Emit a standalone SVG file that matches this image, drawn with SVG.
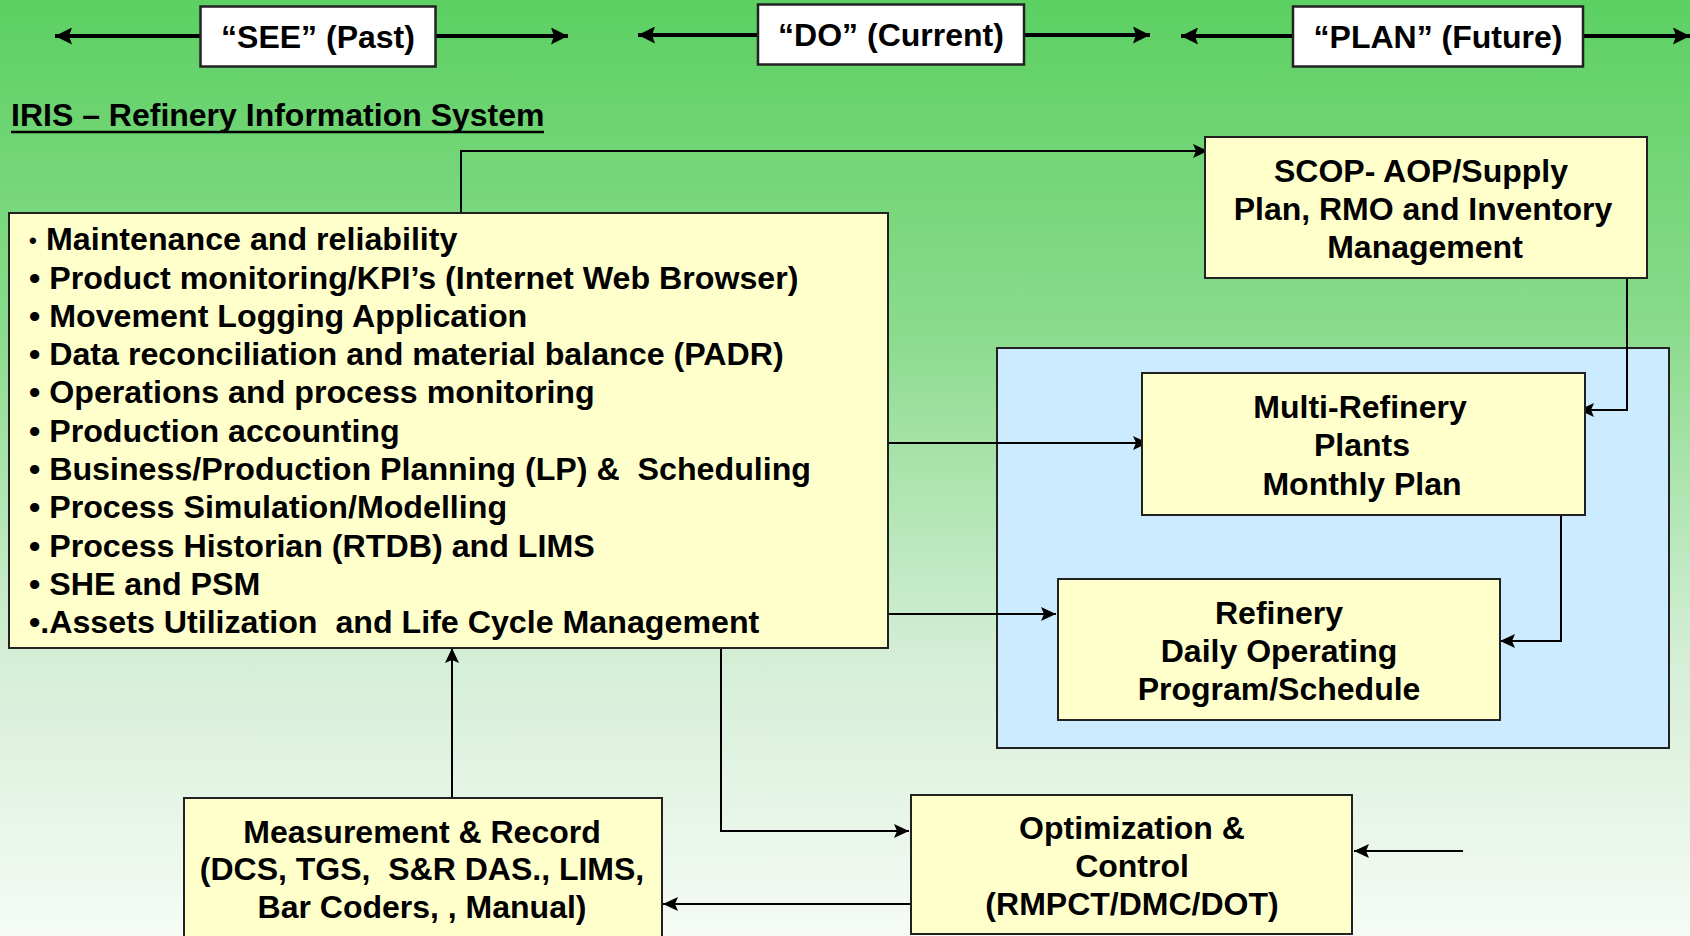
<svg xmlns="http://www.w3.org/2000/svg" width="1690" height="936" viewBox="0 0 1690 936">
  <defs>
    <linearGradient id="bg" x1="0" y1="0" x2="0" y2="1">
      <stop offset="0" stop-color="#5CD062"/>
      <stop offset="0.35" stop-color="#8ADB8C"/>
      <stop offset="0.7" stop-color="#D4EED6"/>
      <stop offset="1" stop-color="#F6FBF6"/>
    </linearGradient>
    <marker id="arrS" viewBox="0 0 15 14" refX="15" refY="7" markerWidth="15" markerHeight="14" markerUnits="userSpaceOnUse" orient="auto">
      <path d="M0,0 L15,7 L0,14 L3,7 z" fill="#000"/>
    </marker>
    <marker id="arrT" viewBox="0 0 17 17" refX="17" refY="8.5" markerWidth="17" markerHeight="17" markerUnits="userSpaceOnUse" orient="auto">
      <path d="M0,0 L17,8.5 L0,17 L3,8.5 z" fill="#000"/>
    </marker>
  </defs>
  <style>
    text { font-family: "Liberation Sans", Arial, sans-serif; font-weight: bold; fill: #000; white-space: pre; }
    .hdr { font-size: 32px; text-anchor: middle; }
    .lst { font-size: 32.2px; }
    .ctr { font-size: 32px; text-anchor: middle; }
    .box { fill: #FFFFCC; stroke: #222; stroke-width: 2; }
    .hbox { fill: #FFFFFF; stroke: #222; stroke-width: 2.5; }
    .conn { fill: none; stroke: #000; stroke-width: 2; marker-end: url(#arrS); }
    .tarr { fill: none; stroke: #000; stroke-width: 4; marker-end: url(#arrT); }
  </style>

  <rect x="0" y="0" width="1690" height="936" fill="url(#bg)"/>

  <!-- timeline headers -->
  <g id="timeline-arrows">
    <line class="tarr" x1="200" y1="36" x2="55" y2="36"/>
    <line class="tarr" x1="435" y1="36" x2="568" y2="36"/>
    <line class="tarr" x1="758" y1="35" x2="638" y2="35"/>
    <line class="tarr" x1="1024" y1="35" x2="1150" y2="35"/>
    <line class="tarr" x1="1293" y1="36" x2="1181" y2="36"/>
    <line class="tarr" x1="1583" y1="36" x2="1690" y2="36"/>
  </g>
  <g id="see">
    <rect class="hbox" x="200.5" y="6.5" width="235" height="60"/>
    <text class="hdr" x="318" y="48">“SEE” (Past)</text>
  </g>
  <g id="do">
    <rect class="hbox" x="758" y="4.5" width="266" height="60"/>
    <text class="hdr" x="891" y="46">“DO” (Current)</text>
  </g>
  <g id="plan">
    <rect class="hbox" x="1293" y="6.5" width="290" height="60"/>
    <text class="hdr" x="1438" y="48">“PLAN” (Future)</text>
  </g>

  <!-- title -->
  <g id="title">
    <text x="11" y="126" style="font-size:32px">IRIS – Refinery Information System</text>
    <line x1="11" y1="132" x2="544" y2="132" stroke="#000" stroke-width="2.5"/>
  </g>

  <!-- planning area -->
  <rect id="planning-area" x="997" y="348" width="672" height="400" fill="#CCEBFF" stroke="#222" stroke-width="2"/>

  <!-- connectors -->
  <g id="connectors">
    <polyline class="conn" points="461,212 461,151 1208,151"/>
    <polyline class="conn" points="1627,279 1627,410 1579,410"/>
    <line class="conn" x1="889" y1="443" x2="1148" y2="443"/>
    <line class="conn" x1="889" y1="614" x2="1056" y2="614"/>
    <polyline class="conn" points="1561,515 1561,641 1500,641"/>
    <line class="conn" x1="452" y1="798" x2="452" y2="648"/>
    <polyline class="conn" points="721,648 721,831 909,831"/>
    <line class="conn" x1="1463" y1="851" x2="1354" y2="851"/>
    <line class="conn" x1="910" y1="904" x2="663" y2="904"/>
  </g>

  <!-- IRIS function list -->
  <g id="iris-functions">
    <rect class="box" x="9" y="213" width="879" height="435"/>
    <text class="lst" x="29" y="250"><tspan style="font-size:22px" dy="-2">•</tspan><tspan x="46" dy="2">Maintenance and reliability</tspan></text>
    <text class="lst" x="29" y="288.5">• Product monitoring/KPI’s (Internet Web Browser)</text>
    <text class="lst" x="29" y="326.8">• Movement Logging Application</text>
    <text class="lst" x="29" y="365.1">• Data reconciliation and material balance (PADR)</text>
    <text class="lst" x="29" y="403.4">• Operations and process monitoring</text>
    <text class="lst" x="29" y="441.7">• Production accounting</text>
    <text class="lst" x="29" y="480">• Business/Production Planning (LP) &amp;  Scheduling</text>
    <text class="lst" x="29" y="518.3">• Process Simulation/Modelling</text>
    <text class="lst" x="29" y="556.6">• Process Historian (RTDB) and LIMS</text>
    <text class="lst" x="29" y="594.9">• SHE and PSM</text>
    <text class="lst" x="29" y="633.2">•.Assets Utilization  and Life Cycle Management</text>
  </g>

  <g id="scop">
    <rect class="box" x="1205" y="137" width="442" height="141"/>
    <text class="ctr" x="1421" y="182">SCOP- AOP/Supply</text>
    <text class="ctr" x="1423" y="220">Plan, RMO and Inventory</text>
    <text class="ctr" x="1425" y="258">Management</text>
  </g>

  <g id="multi-refinery">
    <rect class="box" x="1142" y="373" width="443" height="142"/>
    <text class="ctr" x="1360" y="418">Multi-Refinery</text>
    <text class="ctr" x="1362" y="456">Plants</text>
    <text class="ctr" x="1362" y="495">Monthly Plan</text>
  </g>

  <g id="refinery-daily">
    <rect class="box" x="1058" y="579" width="442" height="141"/>
    <text class="ctr" x="1279" y="624">Refinery</text>
    <text class="ctr" x="1279" y="662">Daily Operating</text>
    <text class="ctr" x="1279" y="700">Program/Schedule</text>
  </g>

  <g id="measurement">
    <rect class="box" x="184" y="798" width="478" height="150"/>
    <text class="ctr" x="422" y="843">Measurement &amp; Record</text>
    <text class="ctr" x="422" y="880">(DCS, TGS,  S&amp;R DAS., LIMS,</text>
    <text class="ctr" x="422" y="918">Bar Coders, , Manual)</text>
  </g>

  <g id="optimization">
    <rect class="box" x="911" y="795" width="441" height="139"/>
    <text class="ctr" x="1132" y="839">Optimization &amp;</text>
    <text class="ctr" x="1132" y="877">Control</text>
    <text class="ctr" x="1132" y="915">(RMPCT/DMC/DOT)</text>
  </g>
</svg>
